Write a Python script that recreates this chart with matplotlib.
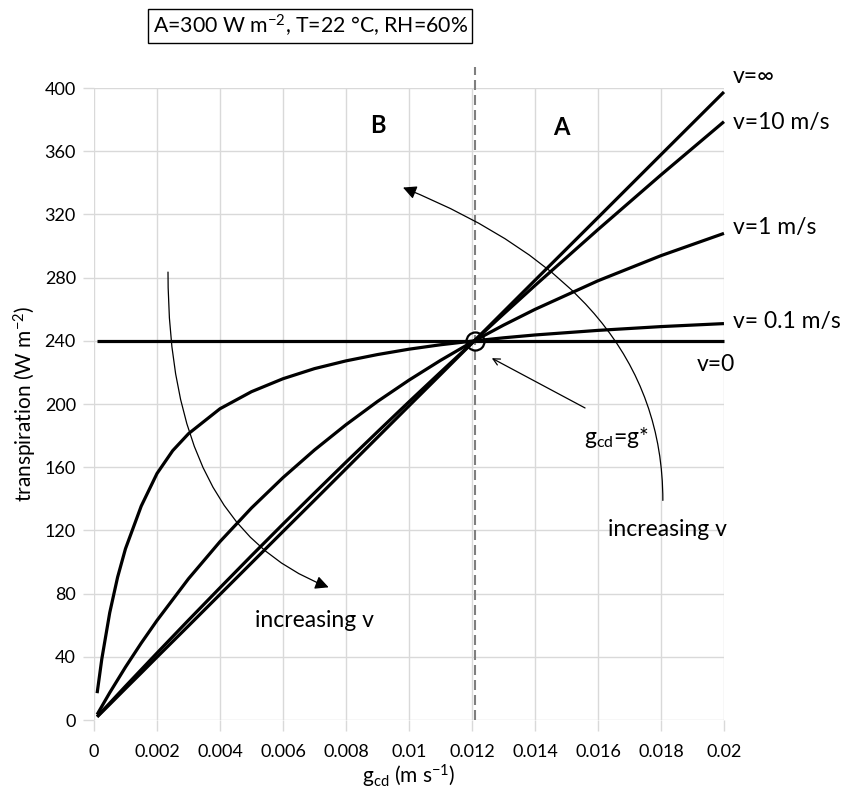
import matplotlib
matplotlib.use('Agg')
import matplotlib.pyplot as plt

plt.rcParams['font.family'] = ['Lato', 'DejaVu Sans']
plt.rcParams['mathtext.fontset'] = 'custom'
plt.rcParams['mathtext.rm'] = 'Lato'
plt.rcParams['mathtext.it'] = 'Lato:italic'

# canopy conductance (m/s) and transpiration (W m-2)
gc = [0.0001, 0.0005, 0.001, 0.0015, 0.002, 0.003, 0.004, 0.005, 0.006, 0.007,
      0.008, 0.009, 0.010, 0.011, 0.012, 0.013, 0.014, 0.016, 0.018, 0.020]
v_inf = [2.0, 9.9, 19.9, 29.8, 39.8, 59.6, 79.5, 99.4, 119.3, 139.1,
         159.0, 178.9, 198.8, 218.6, 238.5, 258.4, 278.3, 318.0, 357.8, 397.5]
v_10 = [2.2, 10.7, 21.4, 31.9, 42.4, 63.2, 83.7, 104.0, 124.0, 143.7,
        163.2, 182.4, 201.4, 220.1, 238.6, 256.9, 275.0, 310.4, 345.0, 378.7]
v_1 = [3.5, 17.3, 33.5, 48.7, 63.0, 89.4, 112.9, 134.2, 153.4, 170.9,
       186.9, 201.6, 215.1, 227.6, 239.2, 249.9, 259.9, 278.0, 293.9, 308.0]

gc_fine = [0.0001, 0.00025, 0.0005, 0.00075, 0.001, 0.0015, 0.002, 0.0025, 0.003,
           0.004, 0.005, 0.006, 0.007, 0.008, 0.009, 0.010, 0.011, 0.012, 0.013,
           0.014, 0.016, 0.018, 0.020]
v_01 = [17.0, 38.8, 67.9, 90.4, 108.4, 135.4, 156.0, 170.5, 181.2,
        197.0, 207.8, 216.0, 222.4, 227.3, 231.3, 234.7, 237.5, 239.8, 241.9,
        243.7, 246.6, 249.0, 250.9]

gc_v0 = [0.0001, 0.020]
v_0 = [240, 240]

g_star = 0.0121
E_star = 240

xticks = [0, 0.002, 0.004, 0.006, 0.008, 0.01, 0.012, 0.014, 0.016, 0.018, 0.02]
xticklabels = ["0", "0.002", "0.004", "0.006", "0.008", "0.01", "0.012",
               "0.014", "0.016", "0.018", "0.02"]
yticks = list(range(0, 401, 40))

GRID = "#d9d9d9"
LW = 2.3
ANN = 16.5

fig = plt.figure(figsize=(8.59, 7.95), dpi=100)
ax = fig.add_axes([0.1094, 0.0943, 0.7334, 0.795])

for xs, ys in [(gc, v_inf), (gc, v_10), (gc, v_1), (gc_fine, v_01), (gc_v0, v_0)]:
    ax.plot(xs, ys, color="black", lw=LW, solid_capstyle="butt", clip_on=False, zorder=4)

ax.set_xlim(0, 0.02)
ax.set_ylim(0, 400)
ax.set_xticks(xticks)
ax.set_xticklabels(xticklabels)
ax.set_yticks(yticks)
ax.grid(True, color=GRID, lw=1.0)
ax.set_axisbelow(True)
for s in ax.spines.values():
    s.set_visible(False)
ax.tick_params(axis="both", length=8, width=1.0, color=GRID, labelsize=13, pad=5)
ax.tick_params(axis="x", pad=9)

ax.set_xlabel("g$_{\\mathrm{cd}}$ (m s$^{-1}$)", fontsize=15, labelpad=2)
ax.set_ylabel("transpiration (W m$^{-2}$)", fontsize=15, labelpad=4)

# g* marker: dashed vertical and open circle
ax.plot([g_star, g_star], [0, 413], color="#7f7f7f", lw=1.5, ls=(0, (4.8, 2.4)),
        clip_on=False, zorder=3)
ax.plot([g_star], [E_star], marker="o", ms=13, mfc="none", mec="black", mew=1.6,
        zorder=5, clip_on=False)

# region letters
ax.text(0.00902, 376, "B", fontsize=17, fontweight="bold", ha="center", va="center")
ax.text(0.01483, 375, "A", fontsize=17, fontweight="bold", ha="center", va="center")

# curve labels
lab_x = 0.02029
ax.text(lab_x, 407, "v=\u221e", fontsize=ANN, ha="left", va="center", clip_on=False)
ax.text(lab_x, 378, "v=10 m/s", fontsize=ANN, ha="left", va="center", clip_on=False)
ax.text(lab_x, 312, "v=1 m/s", fontsize=ANN, ha="left", va="center", clip_on=False)
ax.text(lab_x, 252, "v= 0.1 m/s", fontsize=ANN, ha="left", va="center", clip_on=False)
ax.text(0.01975, 225, "v=0", fontsize=ANN, ha="center", va="center", clip_on=False)

# g* annotation
ax.annotate("", xy=(0.01263, 229), xytext=(0.01559, 197.5),
            arrowprops=dict(arrowstyle="->", lw=0.9, color="black",
                            mutation_scale=12, shrinkA=0, shrinkB=0))
ax.text(0.01657, 178.5, "g$_{\\mathrm{cd}}$=g*", fontsize=ANN, ha="center", va="center")

# increasing-v arrows
ax.annotate("", xy=(0.00745, 84), xytext=(0.00235, 283.5),
            arrowprops=dict(arrowstyle="-|>", lw=0.9, color="black", mutation_scale=20,
                            connectionstyle="angle3,angleA=90,angleB=-21",
                            shrinkA=0, shrinkB=0))
ax.annotate("", xy=(0.00981, 337), xytext=(0.01806, 139),
            arrowprops=dict(arrowstyle="-|>", lw=0.9, color="black", mutation_scale=20,
                            connectionstyle="angle3,angleA=90,angleB=-22",
                            shrinkA=0, shrinkB=0))
ax.text(0.0070, 63.3, "increasing v", fontsize=ANN, ha="center", va="center")
ax.text(0.01819, 120.3, "increasing v", fontsize=ANN, ha="center", va="center")

fig.text(0.361, 0.967, "A=300 W m$^{-2}$, T=22 \u00b0C, RH=60%", fontsize=15.3,
         ha="center", va="center",
         bbox=dict(boxstyle="square,pad=0.2", fc="white", ec="black", lw=1.0))

fig.savefig("out.png", dpi=100)
